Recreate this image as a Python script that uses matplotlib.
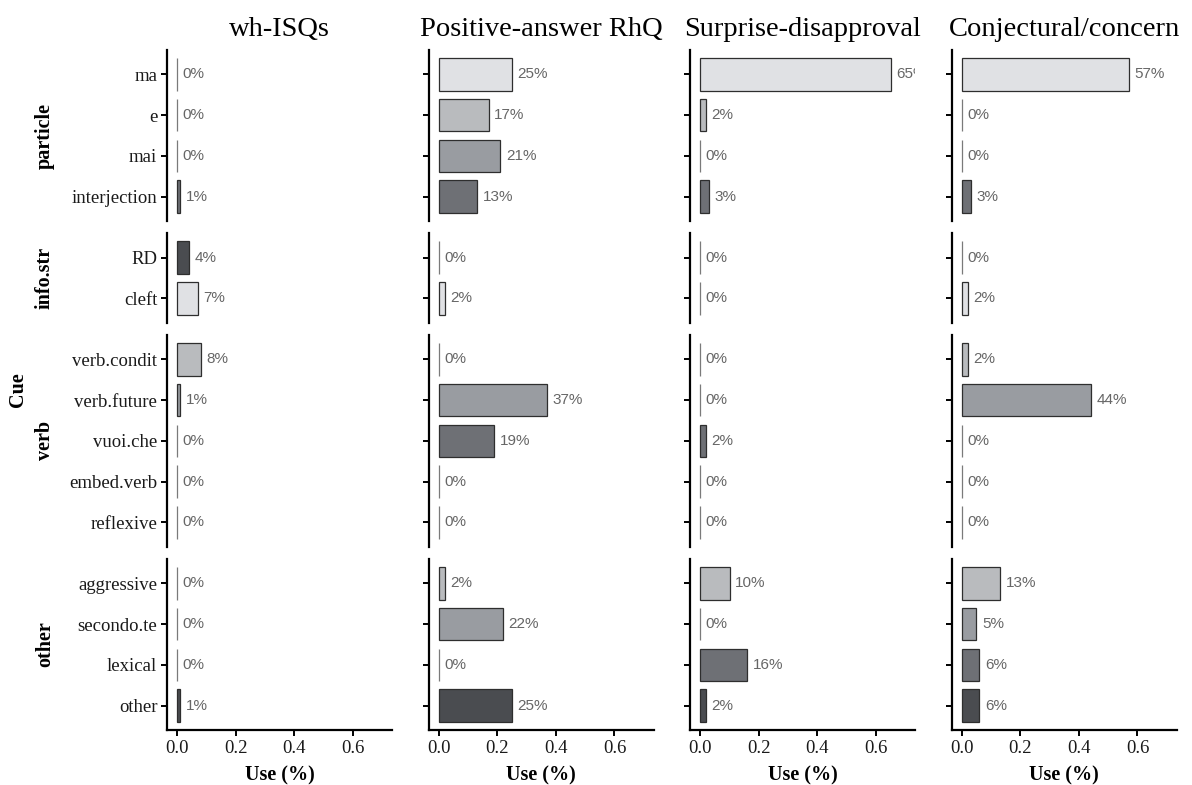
import matplotlib
matplotlib.use("Agg")
import matplotlib.pyplot as plt
from matplotlib.gridspec import GridSpec

# Cue groups and the cues in each group
groups = ["particle", "info.str", "verb", "other"]
cues = {
    "particle": ["ma", "e", "mai", "interjection"],
    "info.str": ["RD", "cleft"],
    "verb": ["verb.condit", "verb.future", "vuoi.che", "embed.verb", "reflexive"],
    "other": ["aggressive", "secondo.te", "lexical", "other"],
}

# Question types (facet columns)
types = ["wh-ISQs", "Positive-answer RhQ", "Surprise-disapproval", "Conjectural/concern"]

# Proportion of use, in cue order: particle, info.str, verb, other
use_wh_isq = [0.00, 0.00, 0.00, 0.01,
              0.04, 0.07,
              0.08, 0.01, 0.00, 0.00, 0.00,
              0.00, 0.00, 0.00, 0.01]
use_pos_rhq = [0.25, 0.17, 0.21, 0.13,
               0.00, 0.02,
               0.00, 0.37, 0.19, 0.00, 0.00,
               0.02, 0.22, 0.00, 0.25]
use_surprise = [0.65, 0.02, 0.00, 0.03,
                0.00, 0.00,
                0.00, 0.00, 0.02, 0.00, 0.00,
                0.10, 0.00, 0.16, 0.02]
use_conject = [0.57, 0.00, 0.00, 0.03,
               0.00, 0.02,
               0.02, 0.44, 0.00, 0.00, 0.00,
               0.13, 0.05, 0.06, 0.06]
series = [use_wh_isq, use_pos_rhq, use_surprise, use_conject]

x_ticks = [0.0, 0.2, 0.4, 0.6]

# Grey fill palette, cycled over the cues
palette = ["#e0e1e4", "#b9bbbe", "#999ca1", "#6e7075", "#4a4c50"]

SERIF = "Liberation Serif"
SANS = "Liberation Sans"

fig = plt.figure(figsize=(11.92, 7.85), dpi=100)
heights = [len(cues[g]) + 0.2 for g in groups]
gs = GridSpec(4, 4, figure=fig, height_ratios=heights,
              left=167 / 1192, right=1177 / 1192,
              top=1 - 50 / 785, bottom=1 - 730 / 785,
              wspace=0.16, hspace=0.075)

offsets = []
k = 0
for g in groups:
    offsets.append(k)
    k += len(cues[g])

for r, g in enumerate(groups):
    names = cues[g]
    n = len(names)
    start = offsets[r]
    fills = [palette[(start + i) % len(palette)] for i in range(n)]
    for c, t in enumerate(types):
        ax = fig.add_subplot(gs[r, c])
        vals = series[c][start:start + n]
        ypos = list(range(n))
        edges = ["#2e2e2e" if v > 0 else "#7a7a7a" for v in vals]
        ax.barh(ypos, vals, height=0.8, color=fills,
                edgecolor=edges, linewidth=0.9, zorder=2)
        for y, v in zip(ypos, vals):
            ax.annotate(f"{round(v * 100)}%", (v, y), xytext=(4, 0),
                        textcoords="offset points", ha="left", va="center",
                        fontsize=11, family=SANS, color="#666666",
                        clip_on=True, annotation_clip=False)
        ax.set_xlim(-0.035, 0.735)
        ax.set_ylim(n - 1 + 0.6, -0.6)
        ax.set_yticks(ypos)
        for s in ("top", "right"):
            ax.spines[s].set_visible(False)
        ax.spines["left"].set_linewidth(1.6)
        ax.spines["left"].set_color("black")
        ax.tick_params(axis="y", length=4, width=1.4, color="black",
                       labelsize=13.5, pad=3)
        if c == 0:
            ax.set_yticklabels(names, family=SERIF, color="#1a1a1a")
        else:
            ax.set_yticklabels([])
        ax.set_xticks(x_ticks)
        if r == len(groups) - 1:
            ax.spines["bottom"].set_linewidth(1.6)
            ax.spines["bottom"].set_color("black")
            ax.tick_params(axis="x", length=4, width=1.4, color="black",
                           labelsize=13.5, pad=3)
            ax.set_xticklabels([f"{v:.1f}" for v in x_ticks],
                               family=SERIF, color="#1a1a1a")
            ax.set_xlabel("Use (%)", family=SERIF, fontweight="bold",
                          fontsize=14.5, labelpad=6)
        else:
            ax.spines["bottom"].set_visible(False)
            ax.tick_params(axis="x", length=0, labelbottom=False)
        if r == 0:
            ax.set_title(t, family=SERIF, fontsize=20.5, pad=10)
        if c == 0:
            pos = ax.get_position()
            fig.text(45 / 1192, (pos.y0 + pos.y1) / 2, g, rotation=90,
                     ha="center", va="center", family=SERIF,
                     fontweight="bold", fontsize=14.5)

fig.text(18 / 1192, 1 - 390 / 785, "Cue", rotation=90, ha="center",
         va="center", family=SERIF, fontweight="bold", fontsize=14.5)

fig.savefig("out.png", dpi=100, facecolor="white")
